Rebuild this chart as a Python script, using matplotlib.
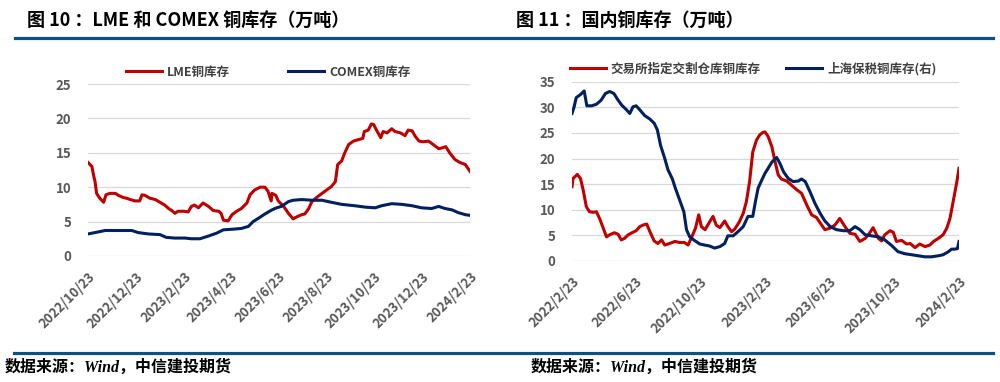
import pandas as pd
import matplotlib
matplotlib.use('Agg')
import matplotlib.pyplot as plt
from matplotlib.lines import Line2D

plt.rcParams['font.family'] = ['Noto Sans CJK SC', 'DejaVu Sans']
plt.rcParams['axes.unicode_minus'] = False

# ---- left chart: LME / COMEX (days since 2022-10-23) ----
left_start = '2022-10-23'
lme_days = [0, 5, 7, 9, 11, 15, 20, 23, 28, 35, 39, 45, 49, 54, 60, 66, 69, 73, 79, 86,
            92, 98, 103, 107, 111, 115, 122, 128, 132, 136, 141, 147, 154, 160, 167, 170,
            173, 179, 184, 190, 196, 203, 207, 213, 220, 226, 230, 234, 235, 240, 243, 250,
            256, 262, 267, 273, 277, 282, 286, 292, 299, 305, 311, 316, 319, 324, 328, 333,
            339, 345, 351, 353, 358, 362, 365, 369, 374, 377, 382, 388, 392, 399, 405, 409,
            414, 418, 423, 428, 435, 441, 448, 452, 457, 462, 469, 475, 482, 488]
lme_vals = [13.6, 13.0, 11.8, 10.8, 9.1, 8.4, 7.8, 8.9, 9.1, 9.1, 8.8, 8.5, 8.4, 8.2, 8.0,
            8.0, 8.9, 8.8, 8.4, 8.2, 7.8, 7.4, 6.9, 6.6, 6.2, 6.5, 6.5, 6.4, 7.2, 7.4, 7.0,
            7.7, 7.2, 6.6, 6.5, 6.2, 5.2, 5.1, 6.0, 6.5, 6.9, 7.7, 8.9, 9.6, 10.0, 10.0, 9.4,
            8.0, 9.1, 8.8, 8.0, 7.2, 6.2, 5.4, 5.7, 6.0, 6.1, 6.9, 7.9, 8.5, 9.1, 9.6, 10.1,
            10.8, 13.3, 13.8, 15.0, 16.2, 16.7, 16.9, 17.1, 18.1, 18.3, 19.2, 19.1, 18.2,
            17.2, 18.1, 17.9, 18.5, 18.1, 17.9, 17.5, 18.3, 18.2, 17.4, 16.7, 16.6, 16.7,
            16.2, 15.6, 15.7, 15.9, 15.0, 14.0, 13.6, 13.3, 12.3]
comex_days = [0, 9, 22, 39, 56, 64, 77, 92, 100, 111, 124, 132, 143, 154, 164, 173, 186,
              196, 205, 211, 218, 226, 235, 241, 247, 256, 262, 273, 286, 299, 311, 324,
              341, 354, 367, 375, 388, 401, 414, 426, 439, 448, 456, 465, 473, 482, 488]
comex_vals = [3.2, 3.4, 3.7, 3.7, 3.7, 3.4, 3.2, 3.1, 2.7, 2.6, 2.6, 2.5, 2.5, 2.9, 3.3,
              3.8, 3.9, 4.0, 4.3, 5.0, 5.5, 6.1, 6.7, 7.0, 7.2, 7.9, 8.1, 8.2, 8.1, 8.1,
              7.8, 7.5, 7.3, 7.1, 7.0, 7.3, 7.6, 7.5, 7.3, 7.0, 6.9, 7.2, 6.9, 6.7, 6.3,
              6.0, 5.9]
left_ticks = ['2022/10/23', '2022/12/23', '2023/2/23', '2023/4/23', '2023/6/23',
              '2023/8/23', '2023/10/23', '2023/12/23', '2024/2/23']

# ---- right chart: domestic (days since 2022-02-23) ----
right_start = '2022-02-23'
shfe_days = [0, 2, 10, 16, 21, 27, 33, 40, 46, 52, 59, 65, 71, 80, 87, 93, 99, 106, 115,
             121, 128, 134, 141, 147, 155, 162, 169, 175, 184, 194, 203, 212, 219, 226,
             233, 239, 244, 251, 260, 266, 272, 279, 288, 294, 301, 307, 316, 323, 329,
             335, 341, 348, 354, 360, 364, 370, 377, 383, 389, 395, 405, 414, 424, 433,
             443, 452, 461, 471, 477, 487, 496, 505, 515, 524, 534, 543, 553, 559, 568,
             578, 584, 590, 600, 606, 612, 622, 631, 638, 647, 656, 666, 675, 682, 691,
             700, 707, 713, 719, 726, 730]
shfe_vals = [14.5, 16.1, 16.9, 16.1, 13.9, 10.6, 9.6, 9.5, 9.6, 8.3, 6.4, 4.7, 5.1, 5.5,
             5.2, 4.1, 4.4, 5.1, 5.6, 5.9, 6.7, 7.0, 7.2, 5.7, 3.9, 3.4, 4.1, 3.1, 3.4,
             3.8, 3.6, 3.6, 3.1, 4.7, 6.4, 9.0, 6.7, 6.1, 7.7, 8.7, 7.0, 6.5, 7.8, 6.7,
             5.7, 6.2, 7.7, 9.3, 11.6, 15.5, 21.3, 23.6, 24.6, 25.1, 25.2, 24.3, 22.3,
             19.4, 16.8, 16.0, 15.6, 14.8, 13.9, 13.2, 10.9, 9.0, 8.5, 7.0, 6.1, 6.4, 7.0,
             8.3, 6.7, 5.4, 5.2, 3.8, 4.4, 5.1, 6.5, 4.4, 3.9, 5.1, 5.9, 5.6, 3.8, 4.0,
             3.3, 3.4, 2.6, 3.3, 2.8, 3.1, 3.8, 4.4, 5.1, 6.4, 8.3, 11.6, 15.5, 18.1]
bonded_days = [0, 4, 8, 16, 23, 28, 37, 46, 55, 63, 71, 79, 87, 94, 103, 109, 115, 121,
               128, 137, 147, 155, 161, 167, 175, 181, 189, 195, 203, 211, 216, 222, 231,
               241, 250, 260, 269, 279, 288, 294, 304, 313, 323, 332, 341, 346, 351, 358,
               364, 370, 377, 386, 392, 399, 408, 417, 427, 433, 440, 449, 458, 468, 477,
               487, 499, 512, 524, 534, 543, 553, 565, 578, 590, 603, 615, 628, 641, 653,
               666, 678, 691, 700, 710, 716, 722, 727, 730]
bonded_vals = [28.8, 30.1, 31.9, 32.5, 33.2, 30.3, 30.3, 30.6, 31.4, 32.7, 33.1, 32.7,
               31.4, 30.4, 29.5, 28.8, 30.1, 30.3, 29.5, 28.4, 27.7, 26.9, 25.6, 22.6,
               20.0, 17.8, 16.1, 14.2, 11.9, 9.6, 6.1, 4.7, 4.0, 3.3, 3.1, 2.9, 2.5, 2.8,
               3.4, 4.9, 4.9, 5.7, 6.7, 8.7, 8.7, 11.6, 14.2, 15.8, 17.1, 18.1, 19.3, 20.2,
               19.1, 17.4, 16.1, 15.5, 15.6, 16.0, 15.5, 13.5, 11.3, 9.3, 7.8, 6.7, 6.1,
               5.9, 5.9, 6.7, 6.1, 5.1, 4.9, 4.7, 4.1, 3.0, 1.8, 1.4, 1.2, 1.0, 0.8, 0.8,
               1.0, 1.2, 1.8, 2.3, 2.3, 2.4, 3.8]
right_ticks = ['2022/2/23', '2022/6/23', '2022/10/23', '2023/2/23', '2023/6/23',
               '2023/10/23', '2024/2/23']

RED = '#C00000'
BLUE = '#002060'
RULE = '#0B5283'
TICK = '#595959'
FS = 9.5


def to_dates(start, days):
    return pd.Timestamp(start) + pd.to_timedelta(days, unit='D')


def style_axes(ax, ymax, step, ticks, start, end):
    ax.set_ylim(0, ymax)
    ax.set_yticks(range(0, ymax + 1, step))
    ax.set_xlim(pd.Timestamp(start), pd.Timestamp(end))
    ax.set_xticks(pd.to_datetime(ticks, format='%Y/%m/%d'))
    ax.set_xticklabels(ticks, rotation=45, ha='right', va='top', rotation_mode='anchor')
    ax.grid(axis='y', color='#D9D9D9', linewidth=0.9)
    ax.set_axisbelow(True)
    for s in ax.spines.values():
        s.set_visible(False)
    ax.tick_params(axis='both', length=0, labelsize=FS, labelcolor=TICK)
    ax.tick_params(axis='y', pad=12)
    ax.tick_params(axis='x', pad=10)
    for lab in ax.get_xticklabels() + ax.get_yticklabels():
        lab.set_fontweight('bold')


fig = plt.figure(figsize=(10, 3.82), dpi=100)

# left chart
ax1 = fig.add_axes([0.088, 0.330, 0.382, 0.450])
ax1.plot(to_dates(left_start, lme_days), lme_vals, color=RED, lw=2.2, label='LME铜库存')
ax1.plot(to_dates(left_start, comex_days), comex_vals, color=BLUE, lw=2.2, label='COMEX铜库存')
style_axes(ax1, 25, 5, left_ticks, '2022-10-23', '2024-02-23')
fig.legend(handles=ax1.get_lines(), loc='center', bbox_to_anchor=(0.268, 1 - 72 / 382),
           ncol=2, frameon=False, handlelength=2.9, handletextpad=0.4, columnspacing=4.6,
           prop={'weight': 'bold', 'size': 9}, labelcolor='#404040')

# right chart
ax2 = fig.add_axes([0.572, 0.317, 0.387, 0.469])
ax2.plot(to_dates(right_start, shfe_days), shfe_vals, color=RED, lw=2.2, label='交易所指定交割仓库铜库存')
ax2.plot(to_dates(right_start, bonded_days), bonded_vals, color=BLUE, lw=2.2, label='上海保税铜库存(右)')
style_axes(ax2, 35, 5, right_ticks, '2022-02-23', '2024-02-23')
fig.legend(handles=ax2.get_lines(), loc='center', bbox_to_anchor=(0.753, 1 - 69 / 382),
           ncol=2, frameon=False, handlelength=2.9, handletextpad=0.4, columnspacing=2.0,
           prop={'weight': 'bold', 'size': 9}, labelcolor='#404040')

# titles and rules
fig.text(0.027, 1 - 20 / 382, '图 10 ：LME 和 COMEX 铜库存（万吨）', fontsize=13,
         fontweight='bold', va='center', ha='left', color='black')
fig.text(0.516, 1 - 20 / 382, '图 11 ：国内铜库存（万吨）', fontsize=13,
         fontweight='bold', va='center', ha='left', color='black')
fig.add_artist(Line2D([0.015, 0.993], [1 - 37.5 / 382] * 2, color=RULE, lw=2.3))
fig.add_artist(Line2D([0.014, 0.993], [1 - 352.5 / 382] * 2, color=RULE, lw=2.3))

src = '数据来源：Wind，中信建投期货'
for x in (0.005, 0.531):
    fig.text(x, 1 - 368 / 382, src, fontsize=11.5, fontweight='bold', fontstyle='italic',
             family=['Liberation Serif', 'Noto Sans CJK SC', 'DejaVu Sans'],
             va='center', ha='left', color='black')

fig.savefig('out.png', dpi=100)
